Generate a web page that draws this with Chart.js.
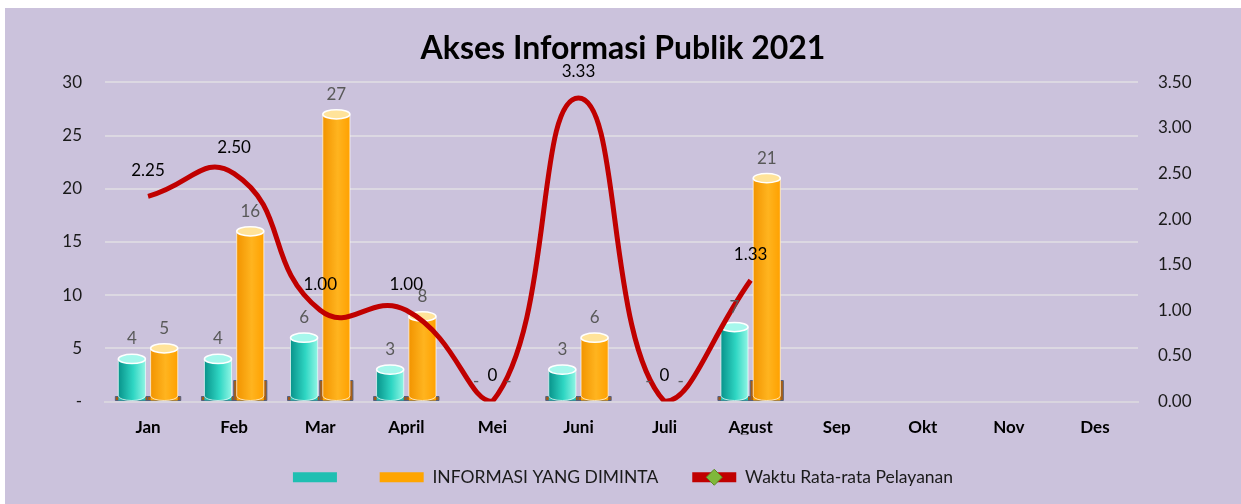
<!DOCTYPE html>
<html>
<head>
<meta charset="utf-8">
<script src="https://cdn.jsdelivr.net/npm/chart.js@4"></script>
<style>
  html, body { margin: 0; padding: 0; background: #fff; }
  #wrap { position: absolute; left: 5px; top: 8px; width: 1236px; height: 496px; background: #CBC2DC; }
</style>
</head>
<body>
<div id="wrap"><canvas id="myChart"></canvas></div>
<script>
  // values
  const months = ['Jan', 'Feb', 'Mar', 'April', 'Mei', 'Juni', 'Juli', 'Agust', 'Sep', 'Okt', 'Nov', 'Des'];
  const permohonan = [4, 4, 6, 3, 0, 3, 0, 7, null, null, null, null];
  const diminta = [5, 16, 27, 8, 0, 6, 0, 21, null, null, null, null];
  const waktu = [2.25, 2.50, 1.00, 1.00, 0, 3.33, 0, 1.33, null, null, null, null];
  const leftMax = 30, leftStep = 5;
  const rightMax = 3.5, rightStep = 0.5;

  Chart.defaults.font.family = 'Lato, "Open Sans", sans-serif';
  Chart.defaults.color = '#1a1a1a';

  const shades = [
    { dark: '#08938b', mid: '#2fd6c3', light: '#8ff5e4', top: '#a6f7ec', base: '#a0581a' },
    { dark: '#f29400', mid: '#ffb41f', light: '#ffa100', top: '#ffe39a', base: '#a85f14' }
  ];

  // 3D look for the bars: pedestal behind, shading and cylinder caps on top
  const cylinders = {
    id: 'cylinders',
    beforeDatasetsDraw(chart) {
      const ctx = chart.ctx;
      [0, 1].forEach(i => {
        const meta = chart.getDatasetMeta(i);
        meta.data.forEach((bar, j) => {
          const v = chart.data.datasets[i].data[j];
          if (v === null || v === 0) return;
          const p = bar.getProps(['x', 'y', 'base', 'width'], true);
          const h = (p.base - p.y) > 100 ? 20 : 4;
          ctx.save();
          ctx.fillStyle = shades[i].base;
          ctx.strokeStyle = '#55607f';
          ctx.lineWidth = 1;
          ctx.beginPath();
          ctx.rect(p.x - p.width / 2 - 3, p.base - h, p.width + 6, h);
          ctx.fill();
          ctx.stroke();
          ctx.restore();
        });
      });
    },
    afterDatasetDraw(chart, args) {
      const i = args.index;
      if (i > 1) return;
      const ctx = chart.ctx;
      args.meta.data.forEach((bar, j) => {
        const v = chart.data.datasets[i].data[j];
        if (v === null || v === 0) return;
        const p = bar.getProps(['x', 'y', 'base', 'width'], true);
        const l = p.x - p.width / 2, r = p.x + p.width / 2;
        const ry = p.width * 0.17;
        const g = ctx.createLinearGradient(l, 0, r, 0);
        g.addColorStop(0, shades[i].dark);
        g.addColorStop(0.55, shades[i].mid);
        g.addColorStop(1, shades[i].light);
        ctx.save();
        ctx.fillStyle = g;
        ctx.beginPath();
        ctx.moveTo(l, p.y);
        ctx.lineTo(l, p.base - ry);
        ctx.ellipse(p.x, p.base - ry, p.width / 2, ry, 0, Math.PI, 0, true);
        ctx.lineTo(r, p.y);
        ctx.closePath();
        ctx.fill();
        ctx.strokeStyle = 'rgba(255,255,255,0.7)';
        ctx.lineWidth = 1;
        ctx.stroke();
        ctx.fillStyle = shades[i].top;
        ctx.beginPath();
        ctx.ellipse(p.x, p.y, p.width / 2, ry, 0, 0, Math.PI * 2);
        ctx.fill();
        ctx.strokeStyle = '#ffffff';
        ctx.lineWidth = 1.5;
        ctx.stroke();
        ctx.restore();
      });
    }
  };

  const valueLabels = {
    id: 'valueLabels',
    afterDatasetsDraw(chart) {
      const ctx = chart.ctx;
      ctx.save();
      ctx.textAlign = 'center';
      ctx.textBaseline = 'middle';
      ctx.font = '17px Lato, "Open Sans", sans-serif';
      chart.data.datasets.forEach((ds, i) => {
        const meta = chart.getDatasetMeta(i);
        meta.data.forEach((el, j) => {
          const v = ds.data[j];
          if (v === null) return;
          if (i < 2) {
            ctx.fillStyle = '#595959';
            ctx.fillText(v === 0 ? '-' : String(v), el.x, el.y - 20);
          } else {
            ctx.fillStyle = '#000000';
            ctx.fillText(v === 0 ? '0' : v.toFixed(2), el.x, el.y - 26);
          }
        });
      });
      ctx.restore();
    },
    afterDraw(chart) {
      // green diamond marker on the line legend entry
      const idx = chart.legend.legendItems.findIndex(it => it.datasetIndex === 2);
      const box = chart.legend.legendHitBoxes[idx];
      if (!box) return;
      const ctx = chart.ctx;
      const cx = box.left + 22, cy = box.top + box.height / 2;
      ctx.save();
      ctx.fillStyle = '#7fb83a';
      ctx.strokeStyle = '#5a8a25';
      ctx.beginPath();
      ctx.moveTo(cx, cy - 8);
      ctx.lineTo(cx + 8, cy);
      ctx.lineTo(cx, cy + 8);
      ctx.lineTo(cx - 8, cy);
      ctx.closePath();
      ctx.fill();
      ctx.stroke();
      ctx.restore();
    }
  };

  const ctx = document.getElementById('myChart').getContext('2d');
  const myChart = new Chart(ctx, {
    type: 'bar',
    data: {
      labels: months,
      datasets: [
        {
          label: '',
          data: permohonan,
          backgroundColor: '#1fbfb2',
          yAxisID: 'y',
          order: 2,
          categoryPercentage: 0.75,
          barPercentage: 0.84
        },
        {
          label: 'INFORMASI YANG DIMINTA',
          data: diminta,
          backgroundColor: '#ffa500',
          yAxisID: 'y',
          order: 2,
          categoryPercentage: 0.75,
          barPercentage: 0.84
        },
        {
          type: 'line',
          label: 'Waktu Rata-rata Pelayanan',
          data: waktu,
          borderColor: '#C00000',
          backgroundColor: '#C00000',
          borderWidth: 5,
          pointRadius: 0,
          tension: 0.5,
          yAxisID: 'y2',
          order: 1
        }
      ]
    },
    options: {
      responsive: true,
      maintainAspectRatio: false,
      animation: false,
      layout: { padding: { left: 0, right: 0, top: 0, bottom: 8 } },
      plugins: {
        title: {
          display: true,
          text: 'Akses Informasi Publik 2021',
          color: '#000',
          font: { size: 32, weight: 'bold' },
          padding: { top: 21, bottom: 15 }
        },
        legend: {
          position: 'bottom',
          labels: {
            boxWidth: 44,
            boxHeight: 10,
            padding: 34,
            font: { size: 17.5 },
            color: '#1a1a1a',
            sort: (a, b) => a.datasetIndex - b.datasetIndex,
            generateLabels(chart) {
              return Chart.defaults.plugins.legend.labels.generateLabels(chart).map(item => {
                item.lineWidth = 0;
                item.strokeStyle = 'rgba(0,0,0,0)';
                return item;
              });
            }
          }
        },
        tooltip: { enabled: false }
      },
      scales: {
        x: {
          grid: { display: false },
          border: { color: '#D9D5DF', width: 2 },
          ticks: { font: { size: 17, weight: 'bold' }, color: '#000', padding: 8 },
          afterFit(scale) { scale.height = 33; }
        },
        y: {
          position: 'left',
          min: 0,
          max: leftMax,
          grid: { color: '#DCD8E2', lineWidth: 2, drawTicks: false },
          border: { display: false },
          ticks: {
            stepSize: leftStep,
            padding: 23,
            font: { size: 17 },
            callback: v => v === 0 ? '-' : v
          },
          afterFit(scale) { scale.width = 100; }
        },
        y2: {
          position: 'right',
          min: 0,
          max: rightMax,
          grid: { display: false, drawTicks: false },
          border: { display: false },
          ticks: {
            stepSize: rightStep,
            padding: 20,
            font: { size: 17 },
            callback: v => v.toFixed(2)
          },
          afterFit(scale) { scale.width = 103; }
        }
      }
    },
    plugins: [cylinders, valueLabels]
  });
</script>
</body>
</html>
